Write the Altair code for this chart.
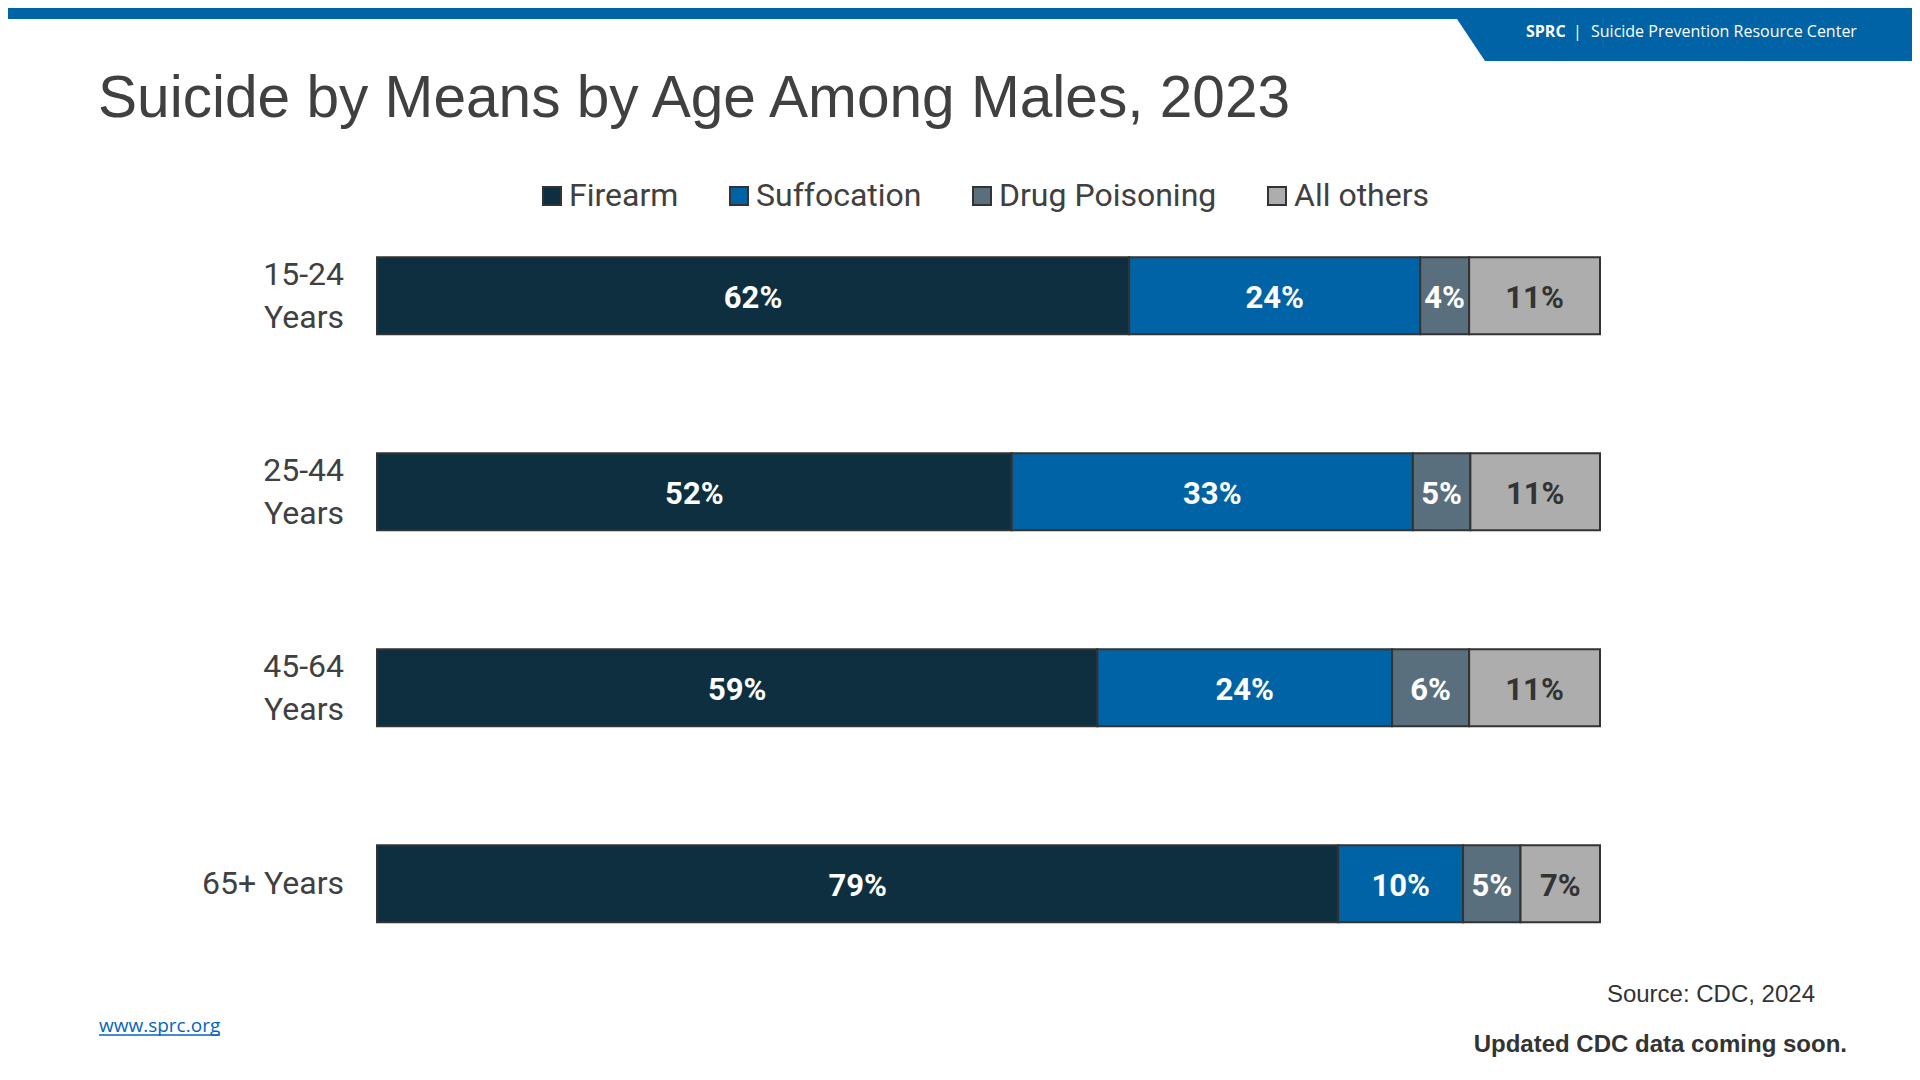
import altair as alt
import pandas as pd

# ---- data ----
ages = ["15-24|Years", "25-44|Years", "45-64|Years", "65+ Years"]
means = ["Firearm", "Suffocation", "Drug Poisoning", "All others"]
firearm = [61.5, 51.9, 58.9, 78.6]
suffocation = [23.8, 32.8, 24.1, 10.2]
drug = [4.0, 4.7, 6.3, 4.7]
others = [10.7, 10.6, 10.7, 6.5]
firearm_lbl = ["62%", "52%", "59%", "79%"]
suffocation_lbl = ["24%", "33%", "24%", "10%"]
drug_lbl = ["4%", "5%", "6%", "5%"]
others_lbl = ["11%", "11%", "11%", "7%"]
colors = ["#0D2F40", "#0063A6", "#5A6F7E", "#ADADAD"]

BLUE = "#0063A6"
series = [firearm, suffocation, drug, others]
series_lbl = [firearm_lbl, suffocation_lbl, drug_lbl, others_lbl]

rows = []
for i, age in enumerate(ages):
    start = 0.0
    for m, vals, lbls in zip(means, series, series_lbl):
        v = vals[i]
        rows.append(dict(age=age, means=m, start=start, end=start + v,
                         mid=start + v / 2, label=lbls[i]))
        start += v
df = pd.DataFrame(rows)

W, H = 1904, 1064
xscale = alt.Scale(domain=[0, 100], range=[369, 1592], nice=False, zero=False)
yscale = alt.Scale(domain=ages, range=[189.7, 973.7], paddingInner=0.607, paddingOuter=0.3035)

bars = alt.Chart(df).mark_bar(stroke="#333333", strokeWidth=2).encode(
    x=alt.X("start:Q", scale=xscale, axis=None),
    x2="end:Q",
    y=alt.Y("age:N", scale=yscale, axis=None),
    color=alt.Color(
        "means:N",
        scale=alt.Scale(domain=means, range=colors),
        legend=alt.Legend(
            title=None, orient="none", legendX=528, legendY=172,
            direction="horizontal", symbolType="square", symbolSize=324,
            symbolStrokeColor="#333333", symbolStrokeWidth=2, symbolOpacity=1,
            labelFont="Roboto", labelFontSize=32, labelColor="#404040",
            labelLimit=0, columnPadding=44, labelOffset=1, padding=0,
        ),
    ),
)

bar_text = alt.Chart(df).mark_text(
    font="Roboto", fontWeight="bold", fontSize=31, baseline="middle", dy=3
).encode(
    x=alt.X("mid:Q", scale=xscale, axis=None),
    y=alt.Y("age:N", scale=yscale, axis=None),
    text="label:N",
    color=alt.condition(alt.datum.means == "All others",
                        alt.value("#333333"), alt.value("#FFFFFF")),
)

age_df = pd.DataFrame({"age": ages})
ylab_style = dict(align="right", baseline="middle", lineBreak="|", font="Roboto",
                  fontSize=32, lineHeight=43, color="#404040")
ylabels_two = alt.Chart(age_df).transform_filter(
    "indexof(datum.age, '|') >= 0"
).mark_text(dy=-21, **ylab_style).encode(
    x=alt.value(336),
    y=alt.Y("age:N", scale=yscale, axis=None),
    text="age:N",
)
ylabels_one = alt.Chart(age_df).transform_filter(
    "indexof(datum.age, '|') < 0"
).mark_text(**ylab_style).encode(
    x=alt.value(336),
    y=alt.Y("age:N", scale=yscale, axis=None),
    text="age:N",
)

one = pd.DataFrame({"a": [0]})

top_bar = alt.Chart(one).mark_rect(color=BLUE).encode(
    x=alt.value(0), x2=alt.value(W), y=alt.value(0), y2=alt.value(11)
)

tab = alt.Chart(pd.DataFrame({"px": [1449, 1477, W], "py": [11, 53, 53], "py2": [11, 11, 11]})).mark_area(
    color=BLUE, orient="vertical"
).encode(
    x=alt.X("px:Q", scale=None, axis=None),
    y=alt.Y("py:Q", scale=None, axis=None),
    y2="py2:Q",
)

def txt(s, x, y, size, color="#404040", font="Liberation Sans", weight="normal", align="left"):
    return alt.Chart(one).mark_text(
        text=s, font=font, fontSize=size, fontWeight=weight, color=color,
        align=align, baseline="alphabetic"
    ).encode(x=alt.value(x), y=alt.value(y))

header1 = txt("SPRC", 1518, 29, 16, "#FFFFFF", "Open Sans", "bold")
header2 = txt("|", 1565, 29, 16, "#FFFFFF", "Open Sans")
header3 = txt("Suicide Prevention Resource Center", 1583, 29, 16, "#FFFFFF", "Open Sans")

title = txt("Suicide by Means by Age Among Males, 2023", 90, 109, 58.6, "#404040")
source = txt("Source: CDC, 2024", 1807, 994, 24, "#333333", align="right")
updated = txt("Updated CDC data coming soon.", 1839, 1044, 24, "#333333", weight="bold", align="right")
link = txt("www.sprc.org", 91, 1024, 19, "#0563C1", "Open Sans")
underline = alt.Chart(one).mark_rule(color="#0563C1", strokeWidth=1.5).encode(
    x=alt.value(91), x2=alt.value(212), y=alt.value(1027)
)

chart = alt.layer(
    top_bar, tab, header1, header2, header3, title,
    bars, bar_text, ylabels_two, ylabels_one, source, updated, link, underline
).resolve_scale(
    x="independent", y="independent"
).properties(
    width=W, height=H,
    autosize=alt.AutoSizeParams(type="none"),
    padding=0,
    background="#FFFFFF",
).configure_view(stroke=None)

chart.save("out.html", embed_options={"renderer": "svg", "actions": False})
